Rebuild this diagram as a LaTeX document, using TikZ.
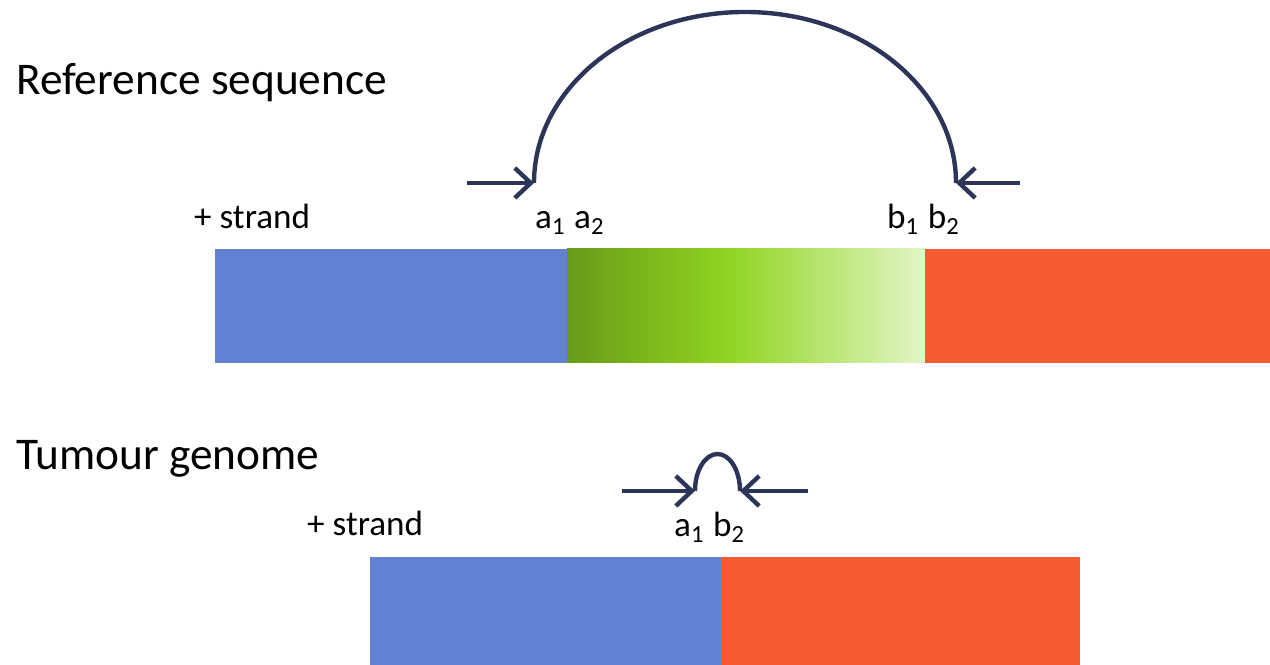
\documentclass[tikz,border=0pt]{standalone}
\usepackage{fontspec}
\setmainfont{Carlito}
\usetikzlibrary{arrows.meta}
\definecolor{cblue}{HTML}{6181D3}
\definecolor{cred}{HTML}{F55B31}
\definecolor{cnavy}{HTML}{2C3558}
\definecolor{gdark}{HTML}{689A18}
\definecolor{gmid}{HTML}{91D421}
\definecolor{glight}{HTML}{E2F6C6}
\pgfdeclarehorizontalshading{greenfade}{100bp}{color(0bp)=(gdark); color(25bp)=(gdark); color(47.5bp)=(gmid); color(75bp)=(glight); color(100bp)=(glight)}
\tikzset{
  every picture/.style={line width=1.25pt},
  link/.style={-{Straight Barb[length=1.6mm, width=3mm, line width=1.25pt]}, draw=cnavy, line width=1.25pt},
  hop/.style={draw=cnavy, line width=1.25pt},
  title/.style={font=\fontsize{12.9}{15}\selectfont, anchor=base west, inner sep=0pt},
  note/.style={font=\fontsize{10}{12}\selectfont, anchor=base west, inner sep=0pt},
}

\begin{document}
\begin{tikzpicture}
  \useasboundingbox (0,0) rectangle (12.70,6.65);
  % reference sequence
  \node[title] (reftitle) at (0.14, 5.70) {Reference sequence};
  \node[note] (refstrand) at (1.92, 4.36) {+ strand};
  \fill[cblue] (2.15, 3.02) rectangle (5.67, 4.16);
  \shade[shading=greenfade] (5.67, 3.02) rectangle (9.25, 4.16);
  \fill[cred] (9.25, 3.02) rectangle (12.70, 4.16);
  \node[note] (aa) at (5.33, 4.36) {a\textsubscript{1} a\textsubscript{2}};
  \node[note] (bb) at (8.85, 4.36) {b\textsubscript{1} b\textsubscript{2}};
  \coordinate (a2) at (5.34, 4.82);
  \coordinate (b1) at (9.56, 4.82);
  \coordinate (inA) at (4.67, 4.82);
  \coordinate (inB) at (10.20, 4.82);
  \draw[hop] (a2) arc[start angle=180, end angle=0, x radius=2.11, y radius=1.71];
  \draw[link] (inA) -- (a2);
  \draw[link] (inB) -- (b1);
  % tumour genome
  \node[title] (tumtitle) at (0.14, 1.95) {Tumour genome};
  \node[note] (tumstrand) at (3.05, 1.29) {+ strand};
  \fill[cblue] (3.70, 0) rectangle (7.21, 1.08);
  \fill[cred] (7.21, 0) rectangle (10.80, 1.08);
  \node[note] (ab) at (6.72, 1.28) {a\textsubscript{1} b\textsubscript{2}};
  \coordinate (a1) at (6.95, 1.74);
  \coordinate (b2) at (7.40, 1.74);
  \coordinate (inC) at (6.22, 1.74);
  \coordinate (inD) at (8.08, 1.74);
  \draw[hop] (a1) arc[start angle=180, end angle=0, x radius=0.225, y radius=0.37];
  \draw[link] (inC) -- (a1);
  \draw[link] (inD) -- (b2);
\end{tikzpicture}
\end{document}
